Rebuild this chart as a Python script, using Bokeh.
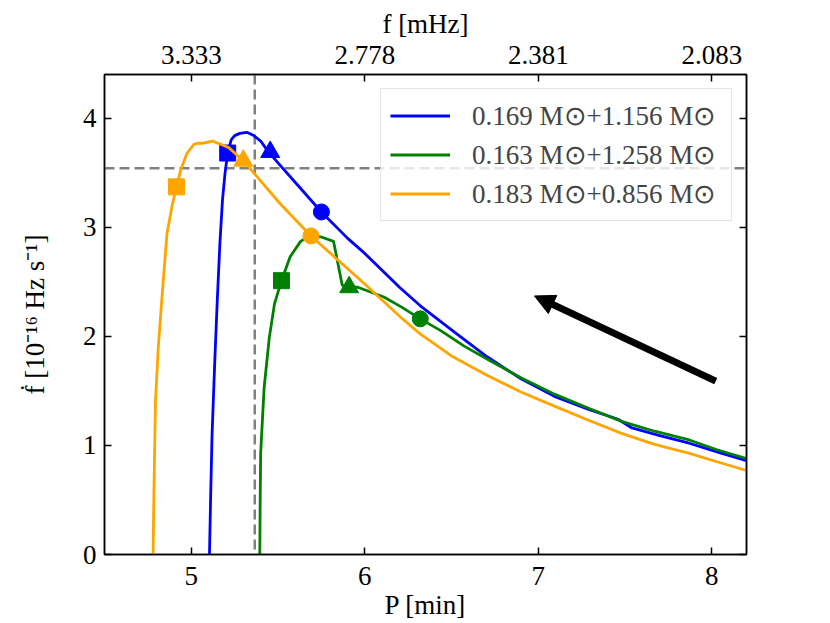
from bokeh.plotting import figure
from bokeh.models import (LinearAxis, FixedTicker, Range1d, Span, Arrow,
                          NormalHead, Legend, LegendItem)
from bokeh.embed import file_html
from bokeh.resources import INLINE

# ---------------- data ----------------
blue_P = [5.105, 5.112, 5.12, 5.135, 5.15, 5.165, 5.18, 5.195, 5.21, 5.23, 5.25,
          5.28, 5.32, 5.36, 5.40, 5.44, 5.50, 5.60, 5.75, 5.90, 6.00, 6.20, 6.32,
          6.515, 6.707, 6.90, 7.093, 7.29, 7.46, 7.54, 7.70, 7.87, 8.03, 8.20]
blue_y = [0.0, 0.55, 1.10, 1.75, 2.33, 2.85, 3.25, 3.50, 3.68, 3.80, 3.84,
          3.86, 3.87, 3.84, 3.79, 3.70, 3.59, 3.41, 3.14, 2.90, 2.76, 2.45, 2.28,
          2.04, 1.81, 1.61, 1.45, 1.33, 1.24, 1.16, 1.09, 1.02, 0.94, 0.86]

green_P = [5.395, 5.397, 5.40, 5.42, 5.45, 5.48, 5.52, 5.57, 5.63, 5.69, 5.75,
           5.82, 5.87, 5.91, 5.96, 6.11, 6.21, 6.32, 6.44, 6.573, 6.707, 6.90,
           7.093, 7.29, 7.48, 7.67, 7.87, 8.03, 8.20]
green_y = [0.0, 0.45, 0.93, 1.53, 1.99, 2.30, 2.51, 2.73, 2.87, 2.93, 2.91,
           2.87, 2.47, 2.45, 2.45, 2.36, 2.27, 2.16, 2.05, 1.91, 1.79, 1.62,
           1.47, 1.34, 1.22, 1.13, 1.05, 0.96, 0.88]

orange_P = [4.78, 4.785, 4.794, 4.81, 4.83, 4.86, 4.89, 4.915, 4.94, 4.976, 5.015,
            5.04, 5.07, 5.12, 5.17, 5.216, 5.30, 5.51, 5.69, 6.00, 6.21, 6.321,
            6.50, 6.707, 6.90, 7.093, 7.29, 7.48, 7.67, 7.866, 8.03, 8.20]
orange_y = [0.0, 0.60, 1.41, 1.90, 2.33, 2.94, 3.20, 3.37, 3.53, 3.68, 3.76,
            3.77, 3.77, 3.79, 3.76, 3.73, 3.61, 3.22, 2.92, 2.48, 2.17, 2.02,
            1.82, 1.64, 1.49, 1.36, 1.23, 1.11, 1.01, 0.93, 0.85, 0.77]

# marker positions: [square, triangle, circle]
blue_mk_P = [5.21, 5.455, 5.75]
blue_mk_y = [3.68, 3.69, 3.14]
green_mk_P = [5.52, 5.91, 6.32]
green_mk_y = [2.51, 2.45, 2.16]
orange_mk_P = [4.915, 5.30, 5.69]
orange_mk_y = [3.37, 3.61, 2.92]

labels = ["0.169 M\u2299+1.156 M\u2299",
          "0.163 M\u2299+1.258 M\u2299",
          "0.183 M\u2299+0.856 M\u2299"]
colors = ["#0000ff", "#008000", "#ffa500"]

x_ticks = [5, 6, 7, 8]
top_tick_labels = ["3.333", "2.778", "2.381", "2.083"]
y_ticks = [0, 1, 2, 3, 4]

vline_P = 5.366
hline_y = 3.54

arrow_start = (8.023, 1.59)
arrow_end = (6.978, 2.37)

# ---------------- figure ----------------
FONT = "Liberation Serif"
FS = "27px"

p = figure(width=830, height=623,
           x_range=Range1d(4.5, 8.2), y_range=Range1d(0, 4.4),
           output_backend="svg", toolbar_location=None,
           min_border_left=104, min_border_right=84,
           min_border_top=74, min_border_bottom=69,
           x_axis_label="P [min]",
           y_axis_label="\u1e1f [10\u207b\u00b9\u2076 Hz s\u207b\u00b9]")
p.grid.visible = False
p.outline_line_color = "black"
p.outline_line_width = 1.5
p.background_fill_color = "white"
p.border_fill_color = "white"

top_axis = LinearAxis(axis_label="f [mHz]")
right_axis = LinearAxis()
p.add_layout(top_axis, "above")
p.add_layout(right_axis, "right")

p.xaxis.ticker = FixedTicker(ticks=x_ticks)
p.yaxis.ticker = FixedTicker(ticks=y_ticks)
top_axis.major_label_overrides = {t: s for t, s in zip(x_ticks, top_tick_labels)}

for ax in p.axis:
    ax.major_tick_in = 7
    ax.major_tick_out = 0
    ax.minor_tick_in = 0
    ax.minor_tick_out = 0
    ax.major_tick_line_width = 1.5
    ax.axis_line_width = 1.5
    ax.major_label_text_font = FONT
    ax.major_label_text_font_size = FS
    ax.major_label_text_color = "black"
    ax.axis_label_text_font = FONT
    ax.axis_label_text_font_size = FS
    ax.axis_label_text_font_style = "normal"
    ax.axis_label_text_color = "black"
    ax.major_label_standoff = 6
    ax.axis_label_standoff = 2

p.below[0].major_label_standoff = 12
p.below[0].axis_label_standoff = 2
top_axis.major_label_standoff = 11
top_axis.axis_label_standoff = 4
p.left[0].major_label_standoff = 8
p.left[0].axis_label_standoff = 30
right_axis.major_label_text_color = None
right_axis.major_label_text_font_size = "1px"

# dashed reference lines
p.add_layout(Span(location=vline_P, dimension="height", line_color="#808080",
                  line_width=2.5, line_dash="10 5", level="underlay"))
p.add_layout(Span(location=hline_y, dimension="width", line_color="#808080",
                  line_width=2.5, line_dash="10 5", level="underlay"))

series = [(blue_P, blue_y, blue_mk_P, blue_mk_y),
          (green_P, green_y, green_mk_P, green_mk_y),
          (orange_P, orange_y, orange_mk_P, orange_mk_y)]
items = []
for (xs, ys, mx, my), col, lab in zip(series, colors, labels):
    r = p.line(xs, ys, line_color=col, line_width=2.8, line_join="round")
    p.scatter([mx[0]], [my[0]], marker="square", size=16, fill_color=col, line_color=col)
    p.scatter([mx[1]], [my[1]], marker="triangle", size=19, fill_color=col, line_color=col)
    p.scatter([mx[2]], [my[2]], marker="circle", size=16, fill_color=col, line_color=col)
    items.append(LegendItem(label=lab, renderers=[r]))

p.add_layout(Arrow(end=NormalHead(size=20, fill_color="black", line_color="black"),
                   x_start=arrow_start[0], y_start=arrow_start[1],
                   x_end=arrow_end[0], y_end=arrow_end[1],
                   line_color="black", line_width=7))

legend = Legend(items=items, location="top_right")
legend.label_text_font = FONT
legend.label_text_font_size = FS
legend.glyph_width = 60
legend.glyph_height = 35
legend.label_height = 35
legend.label_width = 250
legend.spacing = 4
legend.padding = 9
legend.margin = 14
legend.label_standoff = 22
legend.border_line_color = "#cccccc"
legend.border_line_width = 1.5
legend.background_fill_color = "white"
legend.background_fill_alpha = 0.8
p.add_layout(legend)

open("out.html", "w").write(file_html(p, INLINE))
